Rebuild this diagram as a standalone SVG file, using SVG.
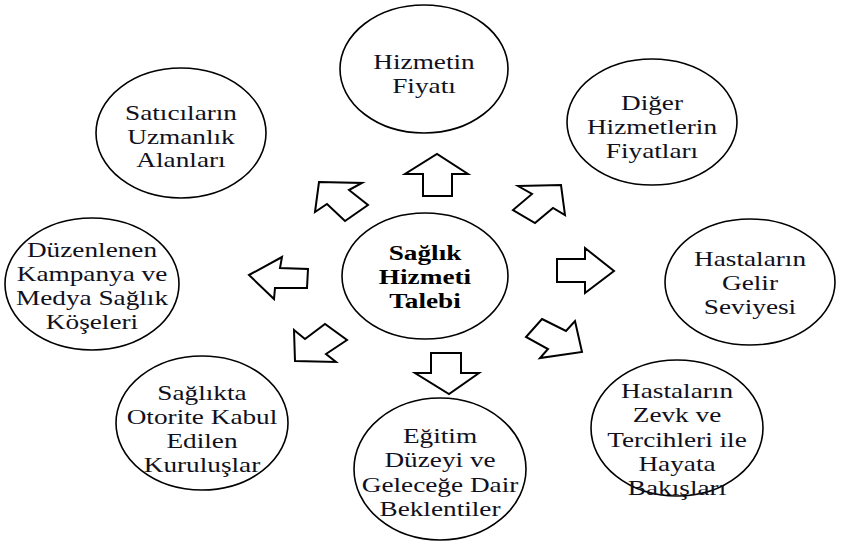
<svg xmlns="http://www.w3.org/2000/svg" width="849" height="547" viewBox="0 0 849 547">
<style>
.n ellipse{fill:#fff;stroke:#000;stroke-width:1.6}
.n text{font-family:"Liberation Serif","Times New Roman",serif;font-size:20.5px;fill:#101020;text-anchor:middle}
.n text.b{font-weight:bold;fill:#000}
.a polygon{fill:#fff;stroke:#000;stroke-width:2;stroke-linejoin:miter}
</style>
<rect width="849" height="547" fill="#fff"/>
<g id="connectors" class="a">
<polygon points="423,196 423,174 405,174 437,154 468,174 452,174 452,196"/>
<polygon points="518,186 561,185 565,215 553,208 535,223 513,210 532,194"/>
<polygon points="557,259 585,259 585,248 614,271 585,293 585,282 557,282"/>
<polygon points="542,319 566,331 575,321 582,352 540,358 548,349 526,337"/>
<polygon points="431,353 461,353 461,373 479,373 449,394 415,373 431,373"/>
<polygon points="294,330 305,339 325,324 347,340 326,354 336,362 295,361"/>
<polygon points="249,275 282,257 280,268 308,269 307,288 275,288 274,299"/>
<polygon points="319,182 362,183 349,190 368,205 345,221 327,204 315,212"/>
</g>
<g id="center" class="n">
<ellipse cx="425" cy="276" rx="83" ry="63"/>
<text class="b" transform="translate(425,0) scale(1.33,1)"><tspan x="0" y="260">Sağlık</tspan><tspan x="0" y="284">Hizmeti</tspan><tspan x="0" y="308">Talebi</tspan></text>
</g>
<g id="n-hizmetin-fiyati" class="n">
<ellipse cx="424" cy="69" rx="84" ry="64"/>
<text transform="translate(424,0) scale(1.33,1)"><tspan x="0" y="69">Hizmetin</tspan><tspan x="0" y="93">Fiyatı</tspan></text>
</g>
<g id="n-diger" class="n">
<ellipse cx="652" cy="122" rx="85" ry="63"/>
<text transform="translate(652,0) scale(1.33,1)"><tspan x="0" y="110">Diğer</tspan><tspan x="0" y="134">Hizmetlerin</tspan><tspan x="0" y="158">Fiyatları</tspan></text>
</g>
<g id="n-gelir" class="n">
<ellipse cx="750" cy="282" rx="85" ry="63"/>
<text transform="translate(750,0) scale(1.33,1)"><tspan x="0" y="266">Hastaların</tspan><tspan x="0" y="290">Gelir</tspan><tspan x="0" y="314">Seviyesi</tspan></text>
</g>
<g id="n-zevk" class="n">
<ellipse cx="677" cy="428" rx="86" ry="68"/>
<text transform="translate(677,0) scale(1.33,1)"><tspan x="0" y="398">Hastaların</tspan><tspan x="0" y="422">Zevk ve</tspan><tspan x="0" y="447">Tercihleri ile</tspan><tspan x="0" y="471">Hayata</tspan><tspan x="0" y="495">Bakışları</tspan></text>
</g>
<g id="n-egitim" class="n">
<ellipse cx="440" cy="469" rx="86" ry="71"/>
<text transform="translate(440,0) scale(1.33,1)"><tspan x="0" y="443">Eğitim</tspan><tspan x="0" y="467">Düzeyi ve</tspan><tspan x="0" y="492">Geleceğe Dair</tspan><tspan x="0" y="516">Beklentiler</tspan></text>
</g>
<g id="n-otorite" class="n">
<ellipse cx="202" cy="423" rx="86" ry="67"/>
<text transform="translate(202,0) scale(1.33,1)"><tspan x="0" y="400">Sağlıkta</tspan><tspan x="0" y="424">Otorite Kabul</tspan><tspan x="0" y="448">Edilen</tspan><tspan x="0" y="472">Kuruluşlar</tspan></text>
</g>
<g id="n-kampanya" class="n">
<ellipse cx="92" cy="284" rx="87" ry="66"/>
<text transform="translate(92,0) scale(1.33,1)"><tspan x="0" y="257">Düzenlenen</tspan><tspan x="0" y="281">Kampanya ve</tspan><tspan x="0" y="305">Medya Sağlık</tspan><tspan x="0" y="329">Köşeleri</tspan></text>
</g>
<g id="n-saticilar" class="n">
<ellipse cx="181" cy="133" rx="85" ry="65"/>
<text transform="translate(181,0) scale(1.33,1)"><tspan x="0" y="120">Satıcıların</tspan><tspan x="0" y="144">Uzmanlık</tspan><tspan x="0" y="167">Alanları</tspan></text>
</g>
</svg>
